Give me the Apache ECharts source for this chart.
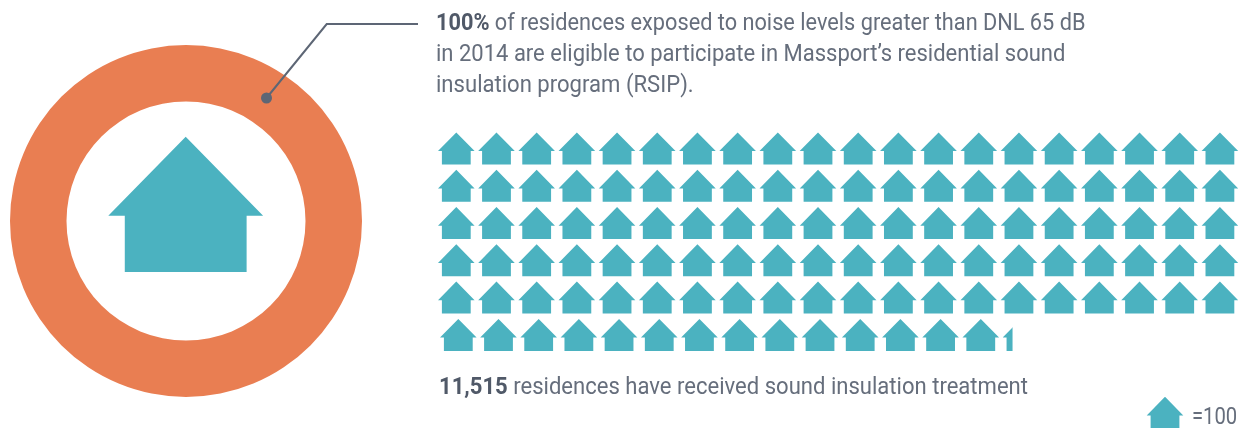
<!DOCTYPE html>
<html>
<head>
<meta charset="utf-8">
<style>
html, body { margin: 0; padding: 0; background: #fff; }
#chart { width: 1240px; height: 428px; }
</style>
<script src="https://cdn.jsdelivr.net/npm/echarts@6/dist/echarts.min.js"></script>
</head>
<body>
<div id="chart"></div>
<script>
// houses per row, each house = 100 residences
const rowCounts = [20, 20, 20, 20, 20, 14.27];
const eligibleShare = [100];
const introLines = [
    "of residences exposed to noise levels greater than DNL 65 dB",
    "in 2014 are eligible to participate in Massport\u2019s residential sound",
    "insulation program (RSIP)."
];
const introValue = "100%";
const treatedValue = "11,515";
const treatedText = "residences have received sound insulation treatment";
const legendText = "=100";

const TEAL = "#4BB2C0";
const ORANGE = "#E97E52";
const SLATE = "#5D6675";
const TEXT = "#666E7C";
const BOLD = "#505968";
const FONT = "Roboto, 'Liberation Sans', sans-serif";

// one [col, row, fraction] per house
const houses = [];
rowCounts.forEach((count, row) => {
    for (let col = 0; col < Math.ceil(count); col++) {
        houses.push([col, row, Math.min(1, count - col)]);
    }
});

// house outline, apex at 0,0
function housePoints(x, y, k) {
    return [
        [0, 0], [18.3, 18.7], [14.4, 18.7], [14.4, 32], [-14.4, 32], [-14.4, 18.7], [-18.3, 18.7]
    ].map((p) => [x + p[0] * k, y + p[1] * k]);
}

function renderHouse(params, api) {
    const row = api.value(1);
    // the last row sits a little to the right in the original
    const pos = api.coord([api.value(0) + (row === 5 ? 0.05 : 0), row]);
    const el = {
        type: "polygon",
        shape: { points: housePoints(pos[0], pos[1], 1) },
        style: { fill: TEAL }
    };
    const fraction = api.value(2);
    if (fraction < 1) {
        el.clipPath = {
            type: "rect",
            shape: { x: pos[0] - 18.3, y: pos[1], width: 36.6 * fraction, height: 32 }
        };
    }
    return el;
}

// the original face is condensed and none is installed, so squeeze per line
function textLine(x, y, text, size, squeeze) {
    return {
        type: "text", x: x, y: y, z: 10, scaleX: squeeze, silent: true,
        style: {
            text: text,
            font: size + "px " + FONT,
            fill: TEXT,
            verticalAlign: "middle",
            rich: { b: { font: "bold " + size + "px " + FONT, fill: BOLD } }
        }
    };
}

const chart = echarts.init(document.getElementById("chart"));
chart.setOption({
    backgroundColor: "#ffffff",
    animation: false,
    grid: { left: 436.2, top: 132.4, width: 804, height: 223.8 },
    xAxis: { type: "value", min: -0.5, max: 19.5, show: false },
    yAxis: { type: "value", min: 0, max: 6, inverse: true, show: false },
    series: [
        {
            type: "pie",
            silent: true,
            center: [186, 221],
            radius: [119.5, 176],
            label: { show: false },
            labelLine: { show: false },
            itemStyle: { color: ORANGE },
            data: eligibleShare
        },
        {
            type: "custom",
            silent: true,
            clip: false,
            renderItem: renderHouse,
            data: houses
        }
    ],
    graphic: [
        // big house in the ring
        { type: "polygon", z: 10, silent: true, shape: { points: housePoints(185.7, 136.7, 4.23) }, style: { fill: TEAL } },
        // leader line
        { type: "polyline", z: 10, silent: true, shape: { points: [[266.5, 98], [326.7, 24], [418, 24]] }, style: { stroke: SLATE, lineWidth: 2, fill: null } },
        { type: "circle", z: 10, silent: true, shape: { cx: 266.5, cy: 98, r: 5.5 }, style: { fill: SLATE } },
        // legend house
        { type: "polygon", z: 10, silent: true, shape: { points: housePoints(1165, 396.7, 1) }, style: { fill: TEAL } },
        textLine(436, 24, "{b|" + introValue + "} " + introLines[0], 24, 0.905),
        textLine(436, 55, introLines[1], 24, 0.917),
        textLine(436, 86, introLines[2], 24, 0.92),
        textLine(439, 388, "{b|" + treatedValue + "} " + treatedText, 24, 0.919),
        textLine(1192, 418, legendText, 23, 0.88)
    ]
});
</script>
</body>
</html>
